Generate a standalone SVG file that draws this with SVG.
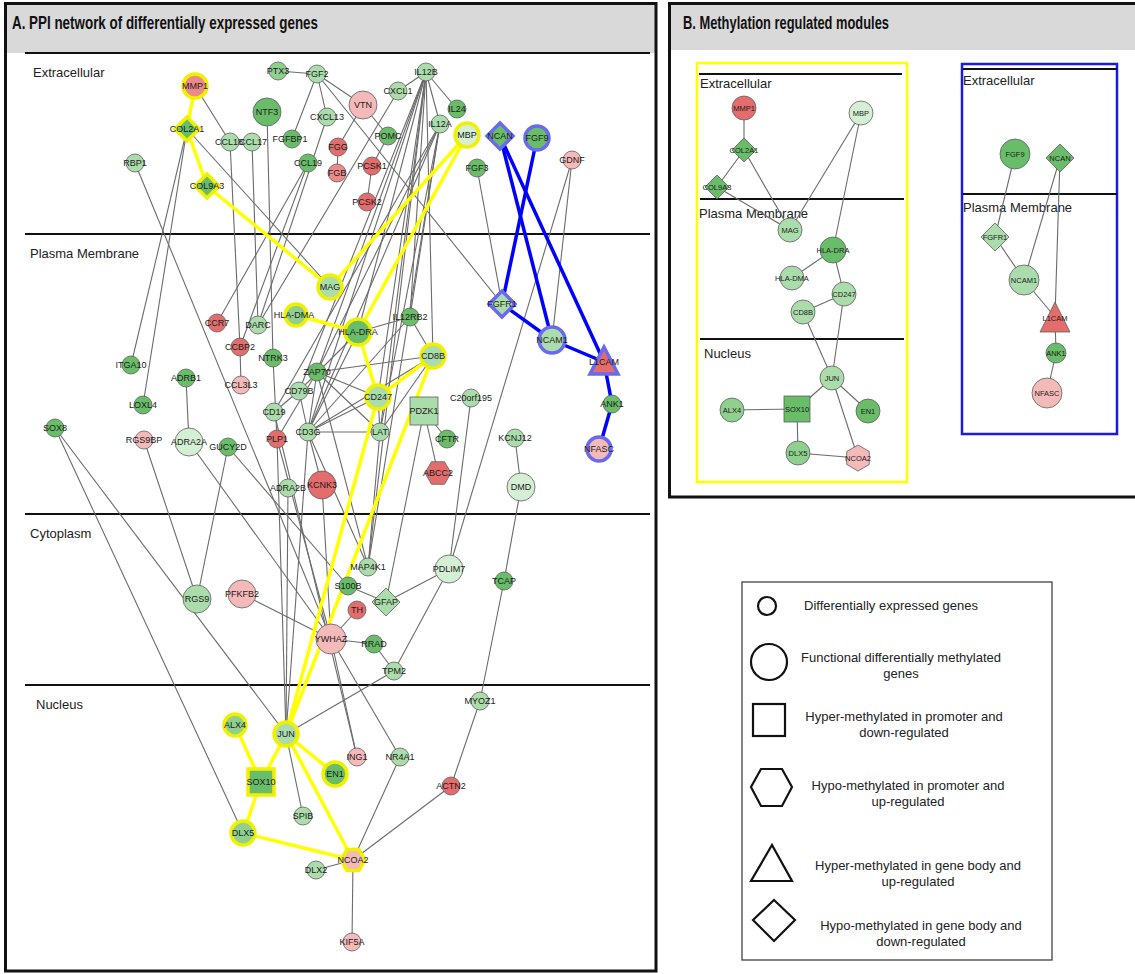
<svg xmlns="http://www.w3.org/2000/svg" width="1135" height="974" viewBox="0 0 1135 974">
<style>
.n{stroke:#5e5e5e;stroke-width:.8}
.ry{stroke:#f0f000;stroke-width:3.5}
.rb{stroke:#6a6aee;stroke-width:3.5}
.dg{fill:#69bd69}.mg{fill:#8fd08f}.lg{fill:#abdcab}.vg{fill:#d4efd4}.rd{fill:#e36d6d}.sa{fill:#ea8a8a}.pk{fill:#f4baba}
.e{stroke:#6b6b6b;stroke-width:1.1;fill:none}
.ey{stroke:#ffff00;stroke-width:3.5;fill:none}
.eb{stroke:#0000ff;stroke-width:3.5;fill:none}
.t{font-family:"Liberation Sans",Arial,sans-serif;font-size:9px;fill:#1b1b1b;text-anchor:middle;dominant-baseline:central}
.ts{font-size:7.5px}
.lane{font-family:"Liberation Sans",Arial,sans-serif;font-size:13px;fill:#222}
.ttl{font-family:"Liberation Sans",Arial,sans-serif;font-size:18px;font-weight:bold;fill:#111}
.lgd{font-family:"Liberation Sans",Arial,sans-serif;font-size:13px;fill:#222;text-anchor:middle}
.ls{fill:none;stroke:#111;stroke-width:2.2}
.sep{stroke:#111;stroke-width:2}
</style>
<rect width="1135" height="974" fill="#fff"/>
<!-- Panel frames -->
<g id="panelA">
<rect x="5" y="3" width="651" height="50" fill="#d9d9d9"/>
<rect x="5.5" y="3.5" width="650.5" height="967.5" fill="none" stroke="#111" stroke-width="3"/>
<text x="12" y="29" class="ttl" textLength="306" lengthAdjust="spacingAndGlyphs">A. PPI network of differentially expressed genes</text>
<line x1="25" y1="53" x2="650" y2="53" class="sep"/>
<line x1="25" y1="234" x2="650" y2="234" class="sep"/>
<line x1="25" y1="514" x2="650" y2="514" class="sep"/>
<line x1="25" y1="685" x2="650" y2="685" class="sep"/>
<text x="33" y="77" class="lane">Extracellular</text>
<text x="30" y="258" class="lane">Plasma Membrane</text>
<text x="30" y="538" class="lane">Cytoplasm</text>
<text x="36" y="709" class="lane">Nucleus</text>
</g>
<g id="panelB">
<rect x="669" y="3" width="466" height="47" fill="#d9d9d9"/>
<path d="M1137,3.5 H669.5 V497 H1137" fill="none" stroke="#111" stroke-width="3"/>
<text x="683" y="29" class="ttl" textLength="206" lengthAdjust="spacingAndGlyphs">B. Methylation regulated modules</text>
<rect x="697" y="63" width="210" height="419" fill="none" stroke="#ffff00" stroke-width="2.5"/>
<line x1="699" y1="74" x2="902" y2="74" class="sep"/>
<line x1="700" y1="199" x2="904" y2="199" class="sep"/>
<line x1="700" y1="339" x2="904" y2="339" class="sep"/>
<text x="700" y="88" class="lane">Extracellular</text>
<text x="699" y="218" class="lane">Plasma Membrane</text>
<text x="704" y="358" class="lane">Nucleus</text>
<rect x="962" y="64" width="155" height="370" fill="none" stroke="#1a1ae6" stroke-width="2.5"/>
<line x1="963" y1="69" x2="1117" y2="69" class="sep"/>
<line x1="963" y1="194" x2="1117" y2="194" class="sep"/>
<text x="963" y="85" class="lane">Extracellular</text>
<text x="963" y="212" class="lane">Plasma Membrane</text>
</g>
<!-- Connectors -->
<g id="connectors">
<g id="edgesA-grey" class="e">
<line x1="278" y1="71" x2="317" y2="74"/>
<line x1="317" y1="74" x2="292" y2="139"/>
<line x1="317" y1="74" x2="327" y2="117"/>
<line x1="317" y1="74" x2="363" y2="105"/>
<line x1="317" y1="74" x2="502" y2="304"/>
<line x1="363" y1="105" x2="338" y2="147"/>
<line x1="363" y1="105" x2="388" y2="136"/>
<line x1="338" y1="147" x2="337" y2="173"/>
<line x1="388" y1="136" x2="372" y2="166"/>
<line x1="372" y1="166" x2="367" y2="202"/>
<line x1="398" y1="91" x2="426" y2="72"/>
<line x1="398" y1="91" x2="258" y2="325"/>
<line x1="327" y1="117" x2="258" y2="325"/>
<line x1="426" y1="72" x2="440" y2="124"/>
<line x1="426" y1="72" x2="457" y2="109"/>
<line x1="195" y1="86" x2="230" y2="142"/>
<line x1="187" y1="129" x2="131" y2="365"/>
<line x1="187" y1="129" x2="143" y2="405"/>
<line x1="187" y1="129" x2="330" y2="287"/>
<line x1="230" y1="142" x2="240" y2="347"/>
<line x1="240" y1="347" x2="241" y2="385"/>
<line x1="252" y1="142" x2="258" y2="325"/>
<line x1="267" y1="112" x2="273" y2="358"/>
<line x1="308" y1="163" x2="217" y2="323"/>
<line x1="308" y1="163" x2="240" y2="347"/>
<line x1="135" y1="163" x2="331" y2="639"/>
<line x1="477" y1="168" x2="502" y2="304"/>
<line x1="572" y1="160" x2="552" y2="340"/>
<line x1="572" y1="160" x2="449" y2="569"/>
<line x1="426" y1="72" x2="410" y2="317"/>
<line x1="426" y1="72" x2="433" y2="356"/>
<line x1="426" y1="72" x2="308" y2="432"/>
<line x1="426" y1="72" x2="317" y2="372"/>
<line x1="426" y1="72" x2="380" y2="432"/>
<line x1="426" y1="72" x2="368" y2="567"/>
<line x1="426" y1="72" x2="378" y2="397"/>
<line x1="426" y1="72" x2="358" y2="332"/>
<line x1="426" y1="72" x2="299" y2="391"/>
<line x1="440" y1="124" x2="410" y2="317"/>
<line x1="440" y1="124" x2="308" y2="432"/>
<line x1="440" y1="124" x2="317" y2="372"/>
<line x1="440" y1="124" x2="380" y2="432"/>
<line x1="440" y1="124" x2="368" y2="567"/>
<line x1="440" y1="124" x2="274" y2="412"/>
<line x1="358" y1="332" x2="410" y2="317"/>
<line x1="358" y1="332" x2="308" y2="432"/>
<line x1="358" y1="332" x2="299" y2="391"/>
<line x1="410" y1="317" x2="433" y2="356"/>
<line x1="410" y1="317" x2="308" y2="432"/>
<line x1="317" y1="372" x2="433" y2="356"/>
<line x1="317" y1="372" x2="378" y2="397"/>
<line x1="317" y1="372" x2="380" y2="432"/>
<line x1="317" y1="372" x2="308" y2="432"/>
<line x1="317" y1="372" x2="368" y2="567"/>
<line x1="308" y1="432" x2="433" y2="356"/>
<line x1="308" y1="432" x2="378" y2="397"/>
<line x1="308" y1="432" x2="380" y2="432"/>
<line x1="308" y1="432" x2="368" y2="567"/>
<line x1="308" y1="432" x2="286" y2="734"/>
<line x1="308" y1="432" x2="322" y2="485"/>
<line x1="380" y1="432" x2="368" y2="567"/>
<line x1="380" y1="432" x2="378" y2="397"/>
<line x1="380" y1="432" x2="433" y2="356"/>
<line x1="299" y1="391" x2="274" y2="412"/>
<line x1="299" y1="391" x2="308" y2="432"/>
<line x1="277" y1="439" x2="317" y2="372"/>
<line x1="277" y1="439" x2="286" y2="734"/>
<line x1="277" y1="439" x2="331" y2="639"/>
<line x1="273" y1="358" x2="277" y2="439"/>
<line x1="274" y1="412" x2="357" y2="757"/>
<line x1="288" y1="488" x2="286" y2="734"/>
<line x1="322" y1="485" x2="331" y2="639"/>
<line x1="186" y1="378" x2="189" y2="442"/>
<line x1="189" y1="442" x2="331" y2="639"/>
<line x1="144" y1="440" x2="197" y2="599"/>
<line x1="228" y1="447" x2="197" y2="599"/>
<line x1="228" y1="447" x2="348" y2="586"/>
<line x1="55" y1="428" x2="243" y2="833"/>
<line x1="55" y1="428" x2="286" y2="734"/>
<line x1="424" y1="411" x2="447" y2="439"/>
<line x1="424" y1="411" x2="438" y2="473"/>
<line x1="424" y1="411" x2="386" y2="602"/>
<line x1="471" y1="398" x2="449" y2="569"/>
<line x1="515" y1="438" x2="521" y2="487"/>
<line x1="521" y1="487" x2="504" y2="581"/>
<line x1="504" y1="581" x2="480" y2="701"/>
<line x1="480" y1="701" x2="451" y2="786"/>
<line x1="451" y1="786" x2="353" y2="860"/>
<line x1="400" y1="757" x2="353" y2="860"/>
<line x1="353" y1="860" x2="352" y2="942"/>
<line x1="353" y1="860" x2="316" y2="870"/>
<line x1="286" y1="734" x2="303" y2="816"/>
<line x1="286" y1="734" x2="394" y2="671"/>
<line x1="331" y1="639" x2="400" y2="757"/>
<line x1="331" y1="639" x2="357" y2="757"/>
<line x1="331" y1="639" x2="242" y2="594"/>
<line x1="331" y1="639" x2="357" y2="610"/>
<line x1="331" y1="639" x2="374" y2="644"/>
<line x1="374" y1="644" x2="394" y2="671"/>
<line x1="394" y1="671" x2="449" y2="569"/>
<line x1="449" y1="569" x2="386" y2="602"/>
<line x1="386" y1="602" x2="348" y2="586"/>
</g>
<g id="edgesA-yellow" class="ey">
<line x1="195" y1="86" x2="187" y2="129"/>
<line x1="187" y1="129" x2="207" y2="186"/>
<line x1="207" y1="186" x2="330" y2="287"/>
<line x1="467" y1="135" x2="330" y2="287"/>
<line x1="467" y1="135" x2="358" y2="332"/>
<line x1="296" y1="315" x2="358" y2="332"/>
<line x1="358" y1="332" x2="378" y2="397"/>
<line x1="378" y1="397" x2="433" y2="356"/>
<line x1="433" y1="356" x2="286" y2="734"/>
<line x1="378" y1="397" x2="286" y2="734"/>
<line x1="286" y1="734" x2="261" y2="782"/>
<line x1="286" y1="734" x2="335" y2="774"/>
<line x1="286" y1="734" x2="353" y2="860"/>
<line x1="235" y1="725" x2="261" y2="782"/>
<line x1="261" y1="782" x2="243" y2="833"/>
<line x1="243" y1="833" x2="353" y2="860"/>
</g>
<g id="edgesA-blue" class="eb">
<line x1="537" y1="138" x2="502" y2="304"/>
<line x1="500" y1="136" x2="552" y2="340"/>
<line x1="500" y1="136" x2="604" y2="362"/>
<line x1="502" y1="304" x2="552" y2="340"/>
<line x1="552" y1="340" x2="604" y2="362"/>
<line x1="604" y1="362" x2="612" y2="404"/>
<line x1="612" y1="404" x2="599" y2="449"/>
</g>
<g id="edgesB" class="e">
<line x1="744" y1="108" x2="744" y2="150"/>
<line x1="744" y1="150" x2="717" y2="187"/>
<line x1="744" y1="150" x2="790" y2="230"/>
<line x1="717" y1="187" x2="790" y2="230"/>
<line x1="861" y1="113" x2="790" y2="230"/>
<line x1="861" y1="113" x2="833" y2="250"/>
<line x1="833" y1="250" x2="792" y2="278"/>
<line x1="833" y1="250" x2="844" y2="294"/>
<line x1="844" y1="294" x2="803" y2="312"/>
<line x1="844" y1="294" x2="832" y2="378"/>
<line x1="803" y1="312" x2="832" y2="378"/>
<line x1="832" y1="378" x2="797" y2="409"/>
<line x1="832" y1="378" x2="868" y2="411"/>
<line x1="832" y1="378" x2="858" y2="458"/>
<line x1="797" y1="409" x2="732" y2="410"/>
<line x1="797" y1="409" x2="798" y2="453"/>
<line x1="798" y1="453" x2="858" y2="458"/>
<line x1="1015" y1="154" x2="995" y2="237"/>
<line x1="1060" y1="158" x2="1024" y2="280"/>
<line x1="1060" y1="158" x2="1055" y2="317"/>
<line x1="995" y1="237" x2="1024" y2="280"/>
<line x1="1024" y1="280" x2="1055" y2="317"/>
<line x1="1055" y1="317" x2="1056" y2="353"/>
<line x1="1056" y1="353" x2="1047" y2="393"/>
</g>
</g>
<!-- Panel A nodes -->
<g id="nodesA">
<g id="A-MMP1"><circle cx="195" cy="86" r="12" class="sa ry"/><text x="195" y="86" class="t">MMP1</text></g>
<g id="A-PTX3"><circle cx="278" cy="71" r="9" class="mg n"/><text x="278" y="71" class="t">PTX3</text></g>
<g id="A-FGF2"><circle cx="317" cy="74" r="9" class="lg n"/><text x="317" y="74" class="t">FGF2</text></g>
<g id="A-NTF3"><circle cx="267" cy="112" r="14" class="dg n"/><text x="267" y="112" class="t">NTF3</text></g>
<g id="A-VTN"><circle cx="363" cy="105" r="14" class="pk n"/><text x="363" y="105" class="t">VTN</text></g>
<g id="A-CXCL1"><circle cx="398" cy="91" r="9" class="lg n"/><text x="398" y="91" class="t">CXCL1</text></g>
<g id="A-IL12B"><circle cx="426" cy="72" r="9" class="lg n"/><text x="426" y="72" class="t">IL12B</text></g>
<g id="A-IL24"><circle cx="457" cy="109" r="9" class="dg n"/><text x="457" y="109" class="t">IL24</text></g>
<g id="A-CXCL13"><circle cx="327" cy="117" r="9" class="lg n"/><text x="327" y="117" class="t">CXCL13</text></g>
<g id="A-IL12A"><circle cx="440" cy="124" r="9" class="lg n"/><text x="440" y="124" class="t">IL12A</text></g>
<g id="A-COL2A1"><polygon points="187,117 199,129 187,141 175,129" class="dg ry"/><text x="187" y="129" class="t">COL2A1</text></g>
<g id="A-CCL18"><circle cx="230" cy="142" r="9" class="lg n"/><text x="229" y="142" class="t">CCL18</text></g>
<g id="A-CCL17"><circle cx="252" cy="142" r="9" class="lg n"/><text x="253" y="142" class="t">CCL17</text></g>
<g id="A-FGFBP1"><circle cx="292" cy="139" r="9" class="dg n"/><text x="290" y="139" class="t">FGFBP1</text></g>
<g id="A-MBP"><circle cx="467" cy="135" r="12" class="vg ry"/><text x="467" y="135" class="t">MBP</text></g>
<g id="A-NCAN"><polygon points="500,123 513,136 500,149 487,136" class="dg rb"/><text x="500" y="136" class="t">NCAN</text></g>
<g id="A-FGF9"><circle cx="537" cy="138" r="12" class="dg rb"/><text x="537" y="138" class="t">FGF9</text></g>
<g id="A-POMC"><circle cx="388" cy="136" r="9" class="dg n"/><text x="388" y="136" class="t">POMC</text></g>
<g id="A-FGG"><circle cx="338" cy="147" r="9" class="rd n"/><text x="338" y="147" class="t">FGG</text></g>
<g id="A-FGB"><circle cx="337" cy="173" r="9" class="sa n"/><text x="337" y="173" class="t">FGB</text></g>
<g id="A-PCSK1"><circle cx="372" cy="166" r="9" class="rd n"/><text x="372" y="166" class="t">PCSK1</text></g>
<g id="A-PCSK2"><circle cx="367" cy="202" r="9" class="rd n"/><text x="367" y="202" class="t">PCSK2</text></g>
<g id="A-RBP1"><circle cx="135" cy="163" r="9" class="lg n"/><text x="135" y="163" class="t">RBP1</text></g>
<g id="A-CCL19"><circle cx="308" cy="163" r="9" class="dg n"/><text x="308" y="163" class="t">CCL19</text></g>
<g id="A-FGF3"><circle cx="477" cy="168" r="9" class="dg n"/><text x="477" y="168" class="t">FGF3</text></g>
<g id="A-GDNF"><circle cx="572" cy="160" r="9" class="pk n"/><text x="572" y="160" class="t">GDNF</text></g>
<g id="A-COL9A3"><polygon points="207,174 219,186 207,198 195,186" class="dg ry"/><text x="207" y="186" class="t">COL9A3</text></g>
<g id="A-MAG"><circle cx="330" cy="287" r="12" class="lg ry"/><text x="330" y="287" class="t">MAG</text></g>
<g id="A-HLA-DMA"><circle cx="296" cy="315" r="11" class="mg ry"/><text x="294" y="315" class="t">HLA-DMA</text></g>
<g id="A-CCR7"><circle cx="217" cy="323" r="9" class="rd n"/><text x="217" y="323" class="t">CCR7</text></g>
<g id="A-DARC"><circle cx="258" cy="325" r="9" class="lg n"/><text x="258" y="325" class="t">DARC</text></g>
<g id="A-HLA-DRA"><circle cx="358" cy="332" r="13" class="dg ry"/><text x="358" y="332" class="t">HLA-DRA</text></g>
<g id="A-IL12RB2"><circle cx="410" cy="317" r="9" class="dg n"/><text x="410" y="317" class="t">IL12RB2</text></g>
<g id="A-CCBP2"><circle cx="240" cy="347" r="9" class="rd n"/><text x="240" y="347" class="t">CCBP2</text></g>
<g id="A-NTRK3"><circle cx="273" cy="358" r="9" class="dg n"/><text x="273" y="358" class="t">NTRK3</text></g>
<g id="A-CD8B"><circle cx="433" cy="356" r="12" class="lg ry"/><text x="433" y="356" class="t">CD8B</text></g>
<g id="A-ITGA10"><circle cx="131" cy="365" r="9" class="dg n"/><text x="131" y="365" class="t">ITGA10</text></g>
<g id="A-ZAP70"><circle cx="317" cy="372" r="9" class="dg n"/><text x="317" y="372" class="t">ZAP70</text></g>
<g id="A-ADRB1"><circle cx="186" cy="378" r="9" class="dg n"/><text x="186" y="378" class="t">ADRB1</text></g>
<g id="A-CCL3L3"><circle cx="241" cy="385" r="9" class="pk n"/><text x="241" y="385" class="t">CCL3L3</text></g>
<g id="A-CD79B"><circle cx="299" cy="391" r="9" class="lg n"/><text x="299" y="391" class="t">CD79B</text></g>
<g id="A-CD247"><circle cx="378" cy="397" r="12" class="lg ry"/><text x="378" y="397" class="t">CD247</text></g>
<g id="A-C20orf195"><circle cx="471" cy="398" r="9" class="lg n"/><text x="471" y="398" class="t">C20orf195</text></g>
<g id="A-PDZK1"><rect x="410" y="397" width="28" height="28" class="lg n"/><text x="424" y="411" class="t">PDZK1</text></g>
<g id="A-LOXL4"><circle cx="143" cy="405" r="9" class="dg n"/><text x="143" y="405" class="t">LOXL4</text></g>
<g id="A-CD19"><circle cx="274" cy="412" r="9" class="lg n"/><text x="274" y="412" class="t">CD19</text></g>
<g id="A-SOX8"><circle cx="55" cy="428" r="9" class="dg n"/><text x="55" y="428" class="t">SOX8</text></g>
<g id="A-CD3G"><circle cx="308" cy="432" r="9" class="lg n"/><text x="308" y="432" class="t">CD3G</text></g>
<g id="A-LAT"><circle cx="380" cy="432" r="9" class="lg n"/><text x="380" y="432" class="t">LAT</text></g>
<g id="A-KCNJ12"><circle cx="515" cy="438" r="9" class="lg n"/><text x="515" y="438" class="t">KCNJ12</text></g>
<g id="A-CFTR"><circle cx="447" cy="439" r="9" class="dg n"/><text x="447" y="439" class="t">CFTR</text></g>
<g id="A-PLP1"><circle cx="277" cy="439" r="9" class="rd n"/><text x="277" y="439" class="t">PLP1</text></g>
<g id="A-RGS9BP"><circle cx="144" cy="440" r="9" class="pk n"/><text x="144" y="440" class="t">RGS9BP</text></g>
<g id="A-ADRA2A"><circle cx="189" cy="442" r="14" class="vg n"/><text x="189" y="442" class="t">ADRA2A</text></g>
<g id="A-GUCY2D"><circle cx="228" cy="447" r="9" class="dg n"/><text x="228" y="447" class="t">GUCY2D</text></g>
<g id="A-ABCC2"><polygon points="425,473 431.5,461.7 444.5,461.7 451,473 444.5,484.3 431.5,484.3" class="rd n"/><text x="438" y="473" class="t">ABCC2</text></g>
<g id="A-ADRA2B"><circle cx="288" cy="488" r="9" class="lg n"/><text x="288" y="488" class="t">ADRA2B</text></g>
<g id="A-KCNK3"><circle cx="322" cy="485" r="14" class="rd n"/><text x="322" y="485" class="t">KCNK3</text></g>
<g id="A-DMD"><circle cx="521" cy="487" r="14" class="vg n"/><text x="521" y="487" class="t">DMD</text></g>
<g id="A-FGFR1"><polygon points="502,291 515,304 502,317 489,304" class="lg rb"/><text x="502" y="304" class="t">FGFR1</text></g>
<g id="A-NCAM1"><circle cx="552" cy="340" r="13" class="lg rb"/><text x="552" y="340" class="t">NCAM1</text></g>
<g id="A-L1CAM"><polygon points="604,347 618,374 590,374" class="rd rb"/><text x="604" y="362" class="t">L1CAM</text></g>
<g id="A-ANK1"><circle cx="612" cy="404" r="9" class="dg n"/><text x="612" y="404" class="t">ANK1</text></g>
<g id="A-NFASC"><circle cx="599" cy="449" r="12" class="pk rb"/><text x="599" y="449" class="t">NFASC</text></g>
<g id="A-MAP4K1"><circle cx="368" cy="567" r="9" class="lg n"/><text x="368" y="567" class="t">MAP4K1</text></g>
<g id="A-PDLIM7"><circle cx="449" cy="569" r="14" class="vg n"/><text x="449" y="569" class="t">PDLIM7</text></g>
<g id="A-TCAP"><circle cx="504" cy="581" r="9" class="dg n"/><text x="504" y="581" class="t">TCAP</text></g>
<g id="A-S100B"><circle cx="348" cy="586" r="9" class="dg n"/><text x="348" y="586" class="t">S100B</text></g>
<g id="A-RGS9"><circle cx="197" cy="599" r="14" class="lg n"/><text x="197" y="599" class="t">RGS9</text></g>
<g id="A-PFKFB2"><circle cx="242" cy="594" r="14" class="pk n"/><text x="242" y="594" class="t">PFKFB2</text></g>
<g id="A-GFAP"><polygon points="386,588 400,602 386,616 372,602" class="lg n"/><text x="386" y="602" class="t">GFAP</text></g>
<g id="A-TH"><circle cx="357" cy="610" r="9" class="rd n"/><text x="357" y="610" class="t">TH</text></g>
<g id="A-YWHAZ"><circle cx="331" cy="639" r="15" class="pk n"/><text x="331" y="639" class="t">YWHAZ</text></g>
<g id="A-RRAD"><circle cx="374" cy="644" r="9" class="dg n"/><text x="374" y="644" class="t">RRAD</text></g>
<g id="A-TPM2"><circle cx="394" cy="671" r="9" class="lg n"/><text x="394" y="671" class="t">TPM2</text></g>
<g id="A-MYOZ1"><circle cx="480" cy="701" r="9" class="lg n"/><text x="480" y="701" class="t">MYOZ1</text></g>
<g id="A-ALX4"><circle cx="235" cy="725" r="11" class="mg ry"/><text x="235" y="725" class="t">ALX4</text></g>
<g id="A-JUN"><circle cx="286" cy="734" r="12" class="lg ry"/><text x="286" y="734" class="t">JUN</text></g>
<g id="A-ING1"><circle cx="357" cy="757" r="9" class="pk n"/><text x="357" y="757" class="t">ING1</text></g>
<g id="A-NR4A1"><circle cx="400" cy="757" r="9" class="lg n"/><text x="400" y="757" class="t">NR4A1</text></g>
<g id="A-EN1"><circle cx="335" cy="774" r="12" class="dg ry"/><text x="335" y="774" class="t">EN1</text></g>
<g id="A-SOX10"><rect x="248" y="769" width="26" height="26" class="dg ry"/><text x="261" y="782" class="t">SOX10</text></g>
<g id="A-ACTN2"><circle cx="451" cy="786" r="9" class="rd n"/><text x="451" y="786" class="t">ACTN2</text></g>
<g id="A-SPIB"><circle cx="303" cy="816" r="9" class="lg n"/><text x="303" y="816" class="t">SPIB</text></g>
<g id="A-DLX5"><circle cx="243" cy="833" r="12" class="mg ry"/><text x="243" y="833" class="t">DLX5</text></g>
<g id="A-NCOA2"><polygon points="341,860 347,849.6 359,849.6 365,860 359,870.4 347,870.4" class="pk ry"/><text x="353" y="860" class="t">NCOA2</text></g>
<g id="A-DLX2"><circle cx="316" cy="870" r="9" class="lg n"/><text x="316" y="870" class="t">DLX2</text></g>
<g id="A-KIF5A"><circle cx="352" cy="942" r="9" class="pk n"/><text x="352" y="942" class="t">KIF5A</text></g>
</g>
<!-- Panel B nodes -->
<g id="nodesB">
<g id="B-MMP1"><circle cx="744" cy="108" r="12" class="rd n"/><text x="744" y="108" class="t ts">MMP1</text></g>
<g id="B-MBP"><circle cx="861" cy="113" r="12" class="vg n"/><text x="861" y="113" class="t ts">MBP</text></g>
<g id="B-COL2A1"><polygon points="744,138 756,150 744,162 732,150" class="dg n"/><text x="744" y="150" class="t ts">COL2A1</text></g>
<g id="B-COL9A3"><polygon points="717,175 729,187 717,199 705,187" class="dg n"/><text x="717" y="187" class="t ts">COL9A3</text></g>
<g id="B-MAG"><circle cx="790" cy="230" r="12" class="lg n"/><text x="790" y="230" class="t ts">MAG</text></g>
<g id="B-HLA-DRA"><circle cx="833" cy="250" r="13" class="dg n"/><text x="833" y="250" class="t ts">HLA-DRA</text></g>
<g id="B-HLA-DMA"><circle cx="792" cy="278" r="12" class="lg n"/><text x="792" y="278" class="t ts">HLA-DMA</text></g>
<g id="B-CD247"><circle cx="844" cy="294" r="12" class="lg n"/><text x="844" y="294" class="t ts">CD247</text></g>
<g id="B-CD8B"><circle cx="803" cy="312" r="12" class="lg n"/><text x="803" y="312" class="t ts">CD8B</text></g>
<g id="B-JUN"><circle cx="832" cy="378" r="12" class="lg n"/><text x="832" y="378" class="t ts">JUN</text></g>
<g id="B-ALX4"><circle cx="732" cy="410" r="12" class="mg n"/><text x="732" y="410" class="t ts">ALX4</text></g>
<g id="B-SOX10"><rect x="784" y="396" width="26" height="26" class="dg n"/><text x="797" y="409" class="t ts">SOX10</text></g>
<g id="B-EN1"><circle cx="868" cy="411" r="12" class="dg n"/><text x="868" y="411" class="t ts">EN1</text></g>
<g id="B-DLX5"><circle cx="798" cy="453" r="12" class="mg n"/><text x="798" y="453" class="t ts">DLX5</text></g>
<g id="B-NCOA2"><polygon points="858,445 869.3,451.5 869.3,464.5 858,471 846.7,464.5 846.7,451.5" class="pk n"/><text x="858" y="458" class="t ts">NCOA2</text></g>
<g id="B-FGF9"><circle cx="1015" cy="154" r="15" class="dg n"/><text x="1015" y="154" class="t ts">FGF9</text></g>
<g id="B-NCAN"><polygon points="1060,144 1074,158 1060,172 1046,158" class="dg n"/><text x="1060" y="158" class="t ts">NCAN</text></g>
<g id="B-FGFR1"><polygon points="995,223 1009,237 995,251 981,237" class="lg n"/><text x="995" y="237" class="t ts">FGFR1</text></g>
<g id="B-NCAM1"><circle cx="1024" cy="280" r="15" class="lg n"/><text x="1024" y="280" class="t ts">NCAM1</text></g>
<g id="B-L1CAM"><polygon points="1055,302 1070,332 1040,332" class="rd n"/><text x="1055" y="318" class="t ts">L1CAM</text></g>
<g id="B-ANK1"><circle cx="1056" cy="353" r="10" class="dg n"/><text x="1056" y="353" class="t ts">ANK1</text></g>
<g id="B-NFASC"><circle cx="1047" cy="393" r="15" class="pk n"/><text x="1047" y="393" class="t ts">NFASC</text></g>
</g>
<!-- Legend -->
<g id="legend">
<rect x="742" y="582" width="310" height="378" fill="none" stroke="#333" stroke-width="1.2"/>
<circle cx="767" cy="606" r="9" class="ls"/>
<text x="891" y="610" class="lgd">Differentially expressed genes</text>
<circle cx="769" cy="662" r="18" class="ls"/>
<text x="901" y="662" class="lgd">Functional differentially methylated</text>
<text x="901" y="678" class="lgd">genes</text>
<rect x="753" y="704" width="32" height="32" class="ls"/>
<text x="904" y="721" class="lgd">Hyper-methylated in promoter and</text>
<text x="904" y="737" class="lgd">down-regulated</text>
<polygon points="751,787 761,769 782,769 792,787 782,806 761,806" class="ls"/>
<text x="908" y="790" class="lgd">Hypo-methylated in promoter and</text>
<text x="908" y="806" class="lgd">up-regulated</text>
<polygon points="772,845 792,881 751,881" class="ls"/>
<text x="918" y="870" class="lgd">Hyper-methylated in gene body and</text>
<text x="918" y="886" class="lgd">up-regulated</text>
<polygon points="774,900 795,920 774,941 753,920" class="ls"/>
<text x="921" y="930" class="lgd">Hypo-methylated in gene body and</text>
<text x="921" y="946" class="lgd">down-regulated</text>
</g>
</svg>
